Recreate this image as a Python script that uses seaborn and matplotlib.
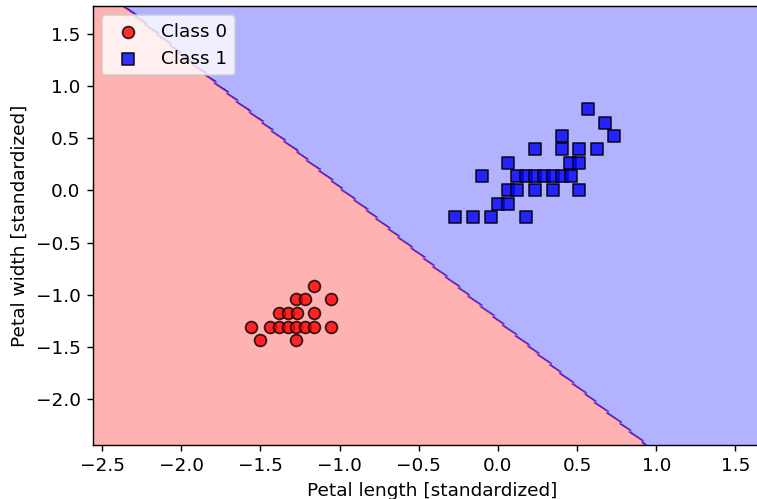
import numpy as np
import pandas as pd
import matplotlib
matplotlib.use("Agg")
import matplotlib.pyplot as plt
from matplotlib.colors import ListedColormap
import seaborn as sns

# Class 0 (standardized petal length, petal width)
class0_x = [-1.163, -1.274, -1.215, -1.053, -1.384, -1.327, -1.268, -1.163,
            -1.557, -1.441, -1.384, -1.327, -1.272, -1.215, -1.163, -1.053,
            -1.500, -1.274]
class0_y = [-0.915, -1.043, -1.043, -1.043, -1.172, -1.172, -1.172, -1.172,
            -1.307, -1.307, -1.307, -1.307, -1.307, -1.307, -1.307, -1.307,
            -1.436, -1.436]

# Class 1
class1_x = [0.568, 0.677, 0.403, 0.732, 0.234, 0.403, 0.515, 0.625,
            0.065, 0.458, 0.515, -0.101, 0.120, 0.177, 0.234, 0.289,
            0.346, 0.403, 0.462, 0.061, 0.120, 0.236, 0.346, 0.511,
            0.002, 0.065, -0.272, -0.156, -0.044, 0.177]
class1_y = [0.784, 0.650, 0.522, 0.522, 0.393, 0.393, 0.393, 0.393,
            0.265, 0.265, 0.265, 0.137, 0.137, 0.137, 0.137, 0.137,
            0.137, 0.137, 0.137, 0.000, 0.000, 0.000, 0.000, 0.000,
            -0.129, -0.129, -0.257, -0.257, -0.257, -0.257]

# linear classifier parameters (decision boundary)
weights = [1.2744, 1.0]
bias = 1.2425

class_labels = ["Class 0", "Class 1"]
colors = ["red", "blue"]
markers = ["o", "s"]

df = pd.DataFrame({
    "x": class0_x + class1_x,
    "y": class0_y + class1_y,
    "cls": [0] * len(class0_x) + [1] * len(class1_x),
})

plt.rcParams["font.size"] = 10.4

dpi = 128
fig = plt.figure(figsize=(757 / dpi, 499 / dpi), dpi=dpi)
ax = fig.add_axes([93 / 757, 54.3 / 499, 677.7 / 757, 438.5 / 499])

x_min, x_max = df["x"].min() - 1, df["x"].max() + 1
y_min, y_max = df["y"].min() - 1, df["y"].max() + 1
xx1, xx2 = np.meshgrid(np.arange(x_min, x_max, 0.02), np.arange(y_min, y_max, 0.02))
z = weights[0] * xx1 + weights[1] * xx2 + bias
lab = np.where(z >= 0, 1, 0)
ax.contourf(xx1, xx2, lab, alpha=0.3, cmap=ListedColormap(colors))
ax.set_xlim(xx1.min(), xx1.max())
ax.set_ylim(xx2.min(), xx2.max())

for idx in (0, 1):
    sub = df[df["cls"] == idx]
    sns.scatterplot(data=sub, x="x", y="y", ax=ax, color=colors[idx],
                    marker=markers[idx], s=44, alpha=0.8, edgecolor="black",
                    linewidth=1.0, label=class_labels[idx])

ax.set_xlabel("Petal length [standardized]")
ax.set_ylabel("Petal width [standardized]")
ax.legend(loc="upper left")

fig.savefig("out.png", dpi=dpi)
